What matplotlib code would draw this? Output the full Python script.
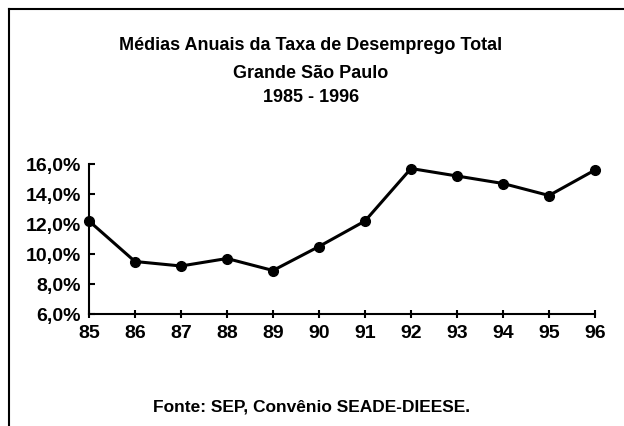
import matplotlib
matplotlib.use("Agg")
import matplotlib.pyplot as plt
from matplotlib.lines import Line2D

plt.rcParams['font.family'] = ['Liberation Sans', 'DejaVu Sans']

# dados
anos = [85, 86, 87, 88, 89, 90, 91, 92, 93, 94, 95, 96]
taxa = [12.2, 9.5, 9.2, 9.7, 8.9, 10.5, 12.2, 15.7, 15.2, 14.7, 13.9, 15.6]
yticks = [6, 8, 10, 12, 14, 16]
ytick_labels = ['6,0%', '8,0%', '10,0%', '12,0%', '14,0%', '16,0%']

fig = plt.figure(figsize=(6.24, 4.26), dpi=100)
fig.patch.set_facecolor('white')

ax = fig.add_axes([89 / 624, 112 / 426, 506 / 624, 150 / 426])
ax.plot(anos, taxa, color='black', lw=2.2, marker='o', ms=7, clip_on=False)
ax.set_xlim(85, 96)
ax.set_ylim(6, 16)
ax.set_xticks(anos)
ax.set_xticklabels([str(a) for a in anos], fontsize=14, fontweight='bold')
ax.set_yticks(yticks)
ax.set_yticklabels(ytick_labels, fontsize=14, fontweight='bold')
ax.spines['top'].set_visible(False)
ax.spines['right'].set_visible(False)
ax.spines['left'].set_linewidth(1.5)
ax.spines['bottom'].set_linewidth(1.5)
ax.tick_params(axis='x', direction='inout', length=6, width=1.5, pad=5)
ax.tick_params(axis='y', direction='in', length=4, width=1.5, pad=6)

# título
fig.text(0.498, 1 - 45 / 426, 'Médias Anuais da Taxa de Desemprego Total',
         ha='center', va='center', fontsize=13, fontweight='bold')
fig.text(0.498, 1 - 73 / 426, 'Grande São Paulo',
         ha='center', va='center', fontsize=13, fontweight='bold')
fig.text(0.498, 1 - 98 / 426, '1985 - 1996',
         ha='center', va='center', fontsize=13, fontweight='bold')

# fonte
fig.text(0.499, 1 - 407 / 426, 'Fonte: SEP, Convênio SEADE-DIEESE.',
         ha='center', va='center', fontsize=12.5, fontweight='bold')

# moldura
fig.add_artist(Line2D([9 / 624, 1], [1 - 9 / 426, 1 - 9 / 426],
                      transform=fig.transFigure, color='black', lw=1.5))
fig.add_artist(Line2D([9 / 624, 9 / 624], [0, 1 - 9 / 426],
                      transform=fig.transFigure, color='black', lw=1.5))

fig.savefig('out.png', dpi=100)
